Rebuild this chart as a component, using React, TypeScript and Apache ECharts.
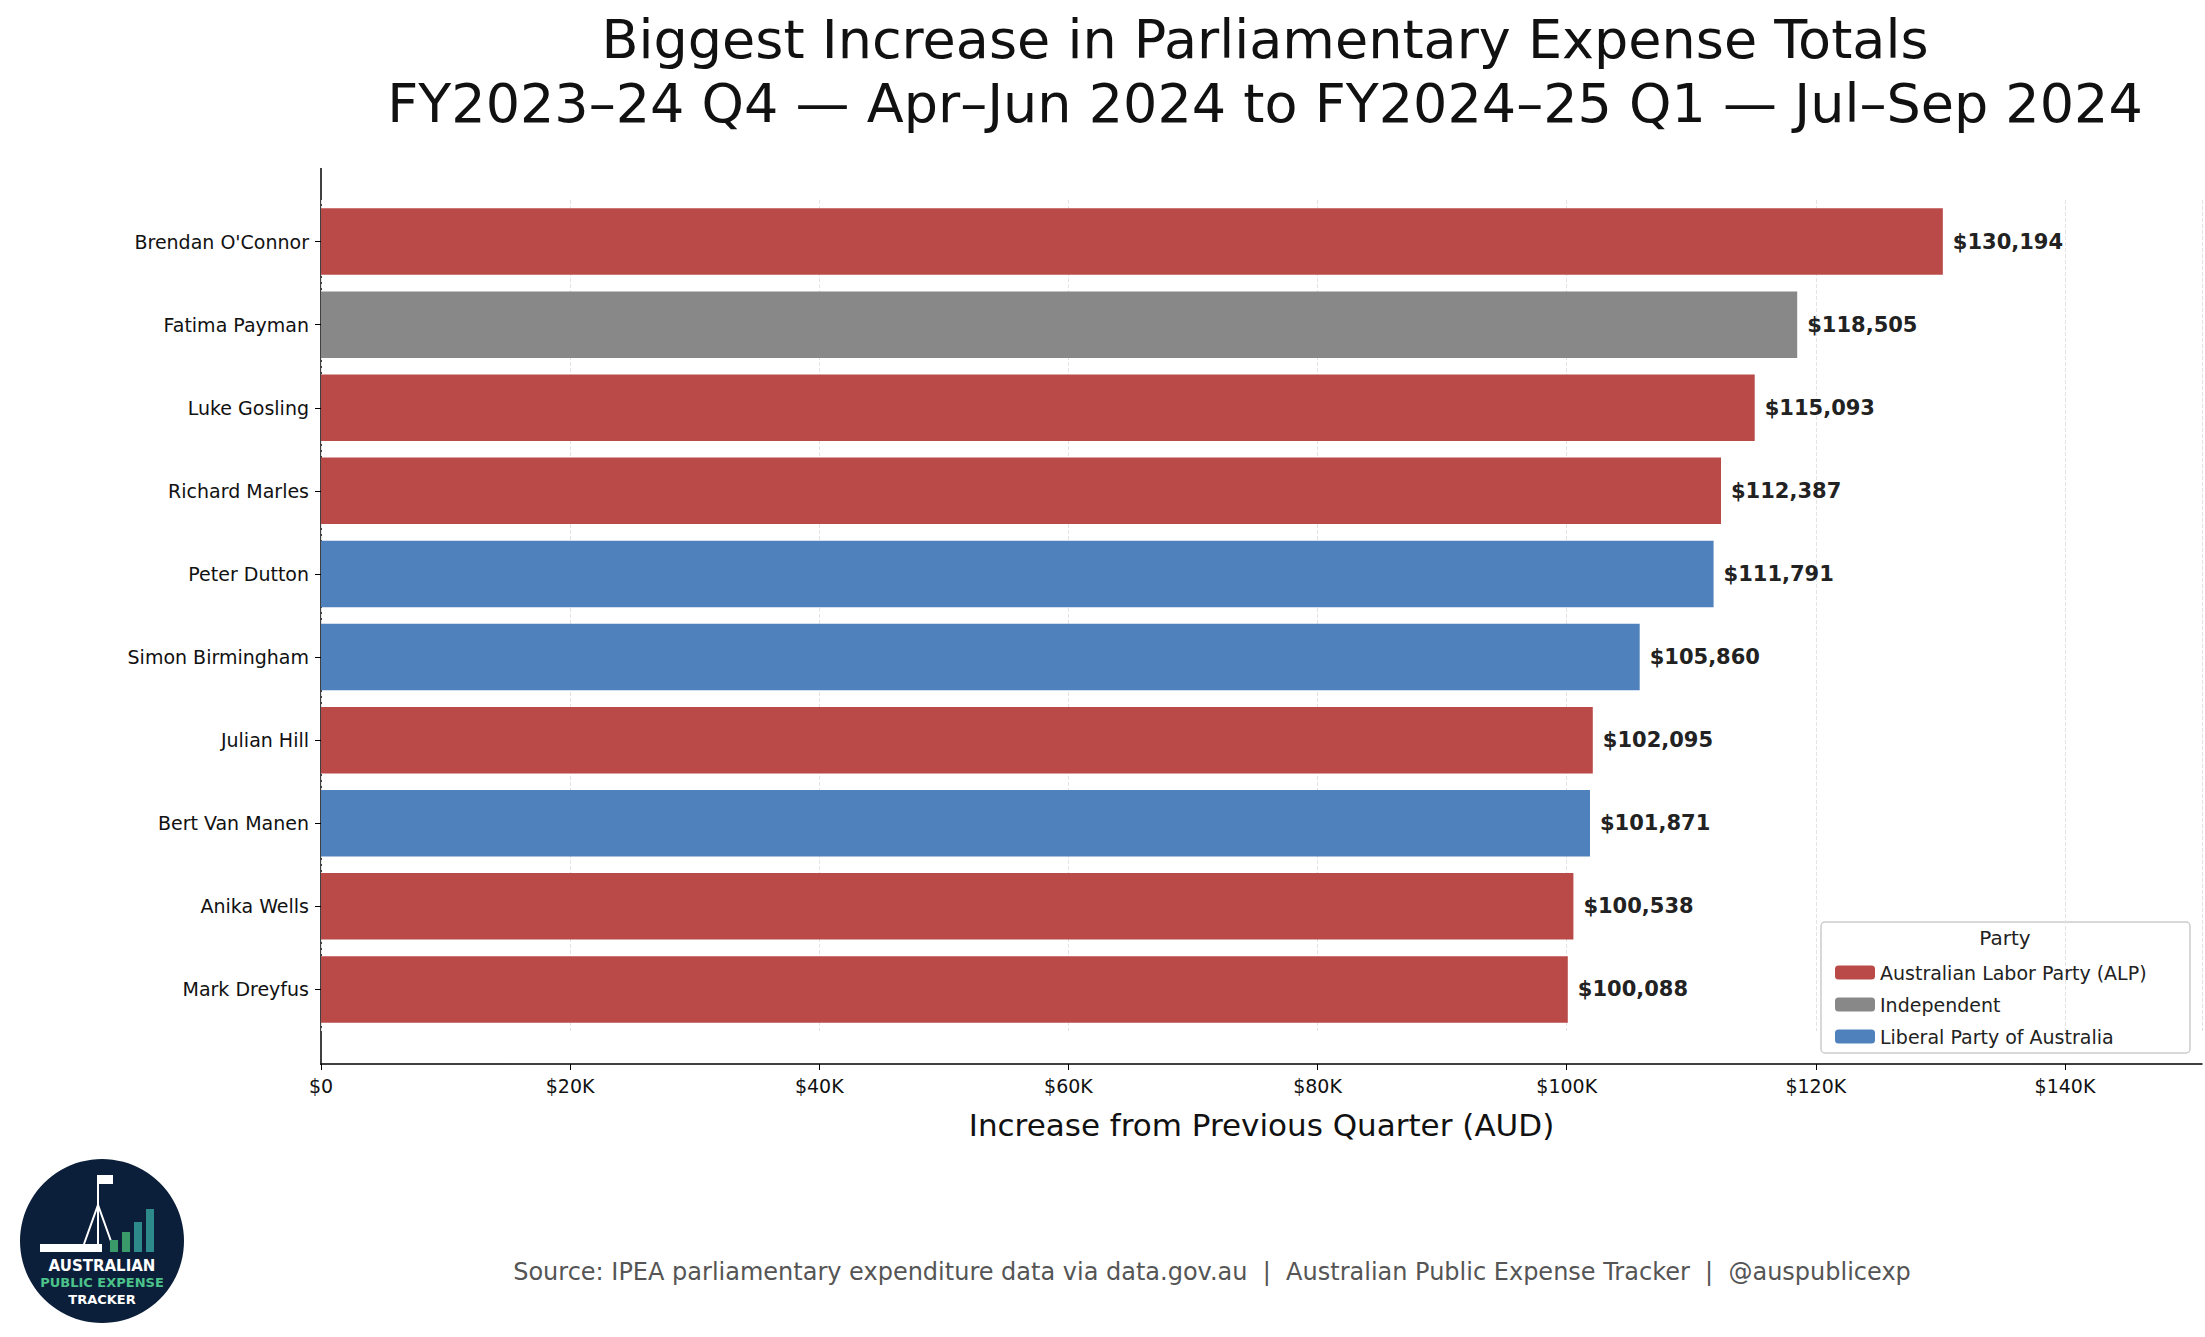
import { useEffect, useRef } from 'react';
import * as echarts from 'echarts';

const names = [
  "Brendan O'Connor", 'Fatima Payman', 'Luke Gosling', 'Richard Marles', 'Peter Dutton',
  'Simon Birmingham', 'Julian Hill', 'Bert Van Manen', 'Anika Wells', 'Mark Dreyfus',
];
const values = [130194, 118505, 115093, 112387, 111791, 105860, 102095, 101871, 100538, 100088];
const parties = ['ALP', 'IND', 'ALP', 'ALP', 'LIB', 'LIB', 'ALP', 'LIB', 'ALP', 'ALP'];
const partyList = [
  { key: 'ALP', label: 'Australian Labor Party (ALP)', color: '#b94a48' },
  { key: 'IND', label: 'Independent', color: '#888888' },
  { key: 'LIB', label: 'Liberal Party of Australia', color: '#4f81bd' },
];

const F = 'DejaVu Sans';

export default function App() {
  const ref = useRef<HTMLDivElement>(null);
  useEffect(() => {
    document.body.style.margin = '0';
    if (!ref.current) return;
    const chart = echarts.init(ref.current, undefined, { renderer: 'svg' });
    chart.setOption({
      animation: false,
      backgroundColor: '#fff',
      textStyle: { fontFamily: F },
      title: {
        text: 'Biggest Increase in Parliamentary Expense Totals\nFY2023–24 Q4 — Apr–Jun 2024 to FY2024–25 Q1 — Jul–Sep 2024',
        left: 1260, top: 2, textAlign: 'center',
        textStyle: { fontFamily: F, fontWeight: 'normal', fontSize: 54, lineHeight: 64, color: '#111' },
      },
      grid: { left: 321, right: 3, top: 200, bottom: 306 },
      legend: {
        orient: 'vertical', left: 1830, top: 958, itemWidth: 40, itemHeight: 14, itemGap: 13,
        textStyle: { fontFamily: F, fontSize: 19, color: '#222' },
        data: partyList.map((p) => p.label),
      },
      xAxis: {
        type: 'value', min: 0, max: 151000, interval: 20000, offset: 33,
        name: 'Increase from Previous Quarter (AUD)', nameLocation: 'middle', nameGap: 45,
        nameTextStyle: { fontFamily: F, fontSize: 31, color: '#111' },
        axisLine: { show: true, lineStyle: { color: '#000', width: 1.5 } },
        axisTick: { show: true, length: 6, lineStyle: { color: '#000' } },
        axisLabel: {
          fontFamily: F, fontSize: 19, color: '#111', margin: 12, showMaxLabel: false,
          formatter: (v: number) => (v === 0 ? '$0' : `$${v / 1000}K`),
        },
        splitLine: { show: true, lineStyle: { color: '#e3e3e3', type: 'dashed' } },
      },
      yAxis: {
        type: 'category', data: names, inverse: true,
        axisLine: { show: false },
        axisTick: { show: true, length: 6, alignWithLabel: true, lineStyle: { color: '#000' } },
        axisLabel: { fontFamily: F, fontSize: 19, color: '#111', margin: 12 },
      },
      series: partyList.map((p) => ({
        type: 'bar', name: p.label, stack: 'all', barCategoryGap: '20%',
        itemStyle: { color: p.color },
        data: values.map((v, i) => (parties[i] === p.key ? v : '-')),
        label: {
          show: true, position: 'right', distance: 10, fontFamily: F, fontSize: 21,
          fontWeight: 'bold', color: '#222',
          formatter: (d: any) => `$${Number(d.value).toLocaleString('en-US')}`,
        },
      })),
      graphic: [
        { type: 'line', shape: { x1: 321, y1: 168, x2: 321, y2: 1065 }, style: { stroke: '#000', lineWidth: 1.5 } },
        { type: 'rect', shape: { x: 1821, y: 922, width: 369, height: 131, r: 4 }, style: { fill: 'rgba(255,255,255,0.85)', stroke: '#ccc', lineWidth: 1.5 } },
        { type: 'text', x: 2005, y: 928, style: { text: 'Party', font: `20px "${F}"`, fill: '#222', textAlign: 'center' } },
        { type: 'text', x: 1212, y: 1260, style: { text: 'Source: IPEA parliamentary expenditure data via data.gov.au  |  Australian Public Expense Tracker  |  @auspublicexp', font: `24px "${F}"`, fill: '#555', textAlign: 'center' } },
        { type: 'circle', shape: { cx: 102, cy: 1241, r: 82 }, style: { fill: '#0b1f3a' } },
        { type: 'rect', shape: { x: 40, y: 1244, width: 62, height: 8 }, style: { fill: '#fff' } },
        { type: 'line', shape: { x1: 98, y1: 1175, x2: 98, y2: 1244 }, style: { stroke: '#fff', lineWidth: 2 } },
        { type: 'polyline', shape: { points: [[84, 1244], [98, 1205], [112, 1244]] }, style: { stroke: '#fff', lineWidth: 2, fill: 'none' } },
        { type: 'rect', shape: { x: 99, y: 1175, width: 14, height: 9 }, style: { fill: '#fff' } },
        { type: 'rect', shape: { x: 110, y: 1240, width: 8, height: 12 }, style: { fill: '#3a9a6a' } },
        { type: 'rect', shape: { x: 122, y: 1232, width: 8, height: 20 }, style: { fill: '#3a9a6a' } },
        { type: 'rect', shape: { x: 134, y: 1222, width: 8, height: 30 }, style: { fill: '#2e8a8a' } },
        { type: 'rect', shape: { x: 146, y: 1209, width: 8, height: 43 }, style: { fill: '#2e8a8a' } },
        { type: 'text', x: 102, y: 1258, style: { text: 'AUSTRALIAN', font: `bold 15px "${F}"`, fill: '#fff', textAlign: 'center' } },
        { type: 'text', x: 102, y: 1276, style: { text: 'PUBLIC EXPENSE', font: `bold 13px "${F}"`, fill: '#4cc38a', textAlign: 'center' } },
        { type: 'text', x: 102, y: 1293, style: { text: 'TRACKER', font: `bold 13px "${F}"`, fill: '#fff', textAlign: 'center' } },
      ],
    });
    return () => chart.dispose();
  }, []);
  return <div ref={ref} style={{ width: 2205, height: 1337 }} />;
}
